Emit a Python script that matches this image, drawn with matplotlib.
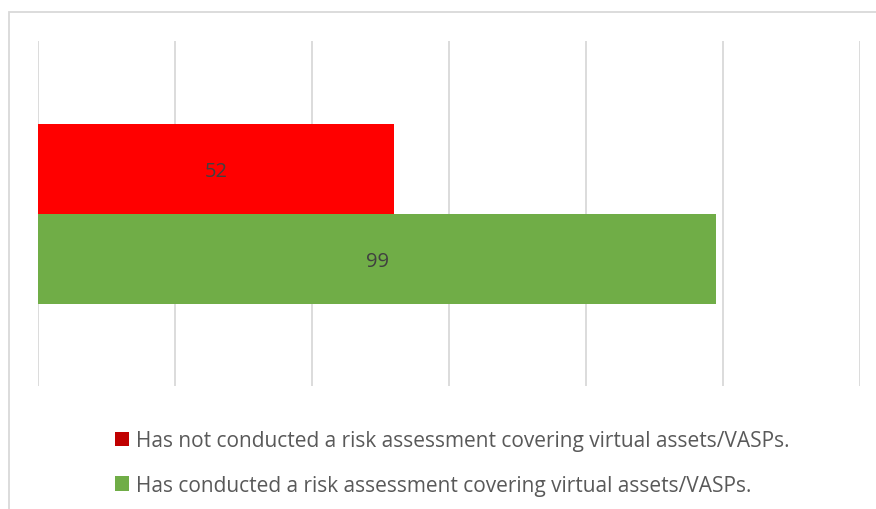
import matplotlib.pyplot as plt
from matplotlib.patches import Patch, Rectangle

# datos del grafico
etiquetas = [
    "Has not conducted a risk assessment covering virtual assets/VASPs.",
    "Has conducted a risk assessment covering virtual assets/VASPs.",
]
valores = [52, 99]
colores_barra = ["#FF0000", "#70AD47"]
colores_leyenda = ["#C00000", "#70AD47"]

plt.rcParams["font.family"] = ["Open Sans", "DejaVu Sans"]

W, H = 876, 510
fig = plt.figure(figsize=(W / 100, H / 100), dpi=100)

# marco exterior del grafico (se sale por la derecha y abajo)
fig.patches.append(Rectangle((9 / W, -0.1), 1.2, 1 - 13 / H + 0.1, transform=fig.transFigure,
                             fill=False, edgecolor="#D9D9D9", linewidth=1.3))

ax = fig.add_axes([38 / W, 1 - 387 / H, (860 - 38) / W, (387 - 42) / H])

alto = 90 / 345
posiciones = [alto / 2, -alto / 2]
barras = ax.barh(posiciones, valores, height=alto, color=colores_barra, zorder=2)

for b, v in zip(barras, valores):
    ax.annotate(str(v), (v / 2, b.get_y() + b.get_height() / 2), xytext=(0, -3),
                textcoords="offset pixels", ha="center", va="center",
                fontsize=14.5, color="#404040", zorder=3)

ax.set_xlim(0, 120)
ax.set_ylim(-0.5, 0.5)
ax.set_xticks(range(0, 121, 20))
ax.grid(axis="x", color="#D9D9D9", linewidth=1.3, zorder=0)
ax.tick_params(length=0, labelbottom=False, labelleft=False)
ax.set_yticks([])
for s in ax.spines.values():
    s.set_visible(False)

handles = [Patch(facecolor=c, edgecolor="none") for c in colores_leyenda]
fig.legend(handles, etiquetas, loc="upper left", bbox_to_anchor=(107 / W, 1 - 423 / H),
           frameon=False, fontsize=15, labelcolor="#595959", handlelength=0.67,
           handleheight=0.67, handletextpad=0.3, labelspacing=1.13, borderaxespad=0)

fig.savefig("out.png", dpi=100)
